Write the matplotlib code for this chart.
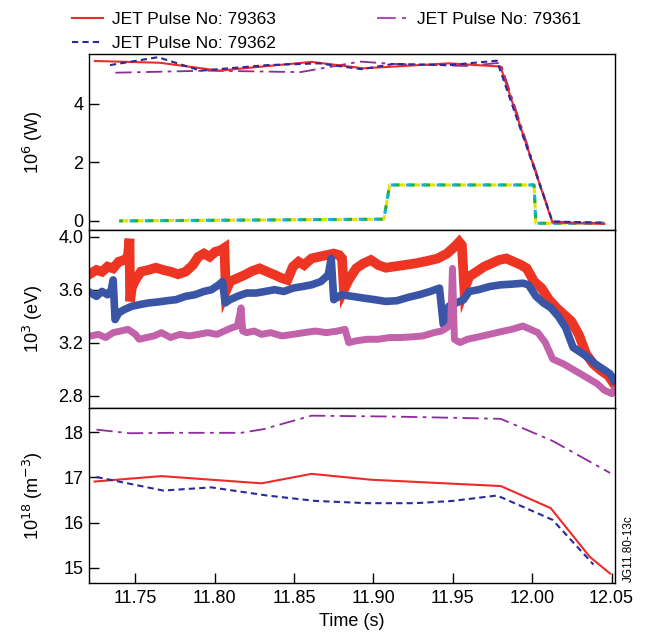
import matplotlib.pyplot as plt
from matplotlib.lines import Line2D

plt.rcParams['font.family'] = ['Liberation Sans', 'DejaVu Sans']

# Input power (10^6 W)
t_pw_363 = [11.7246, 11.7654, 11.8027, 11.8610, 11.8938, 11.9475, 11.9800, 12.0128, 12.0455]
pw_363 = [5.47, 5.41, 5.14, 5.44, 5.22, 5.39, 5.28, -0.06, -0.10]
t_pw_362 = [11.7340, 11.7642, 11.7911, 11.8331, 11.8658, 11.8926, 11.9125, 11.9475, 11.9778, 12.0128, 12.0455]
pw_362 = [5.33, 5.60, 5.14, 5.33, 5.39, 5.19, 5.37, 5.33, 5.48, -0.02, -0.06]
t_pw_361 = [11.7374, 11.7957, 11.8541, 11.8915, 11.9125, 11.9592, 11.9800, 12.0128, 12.0455]
pw_361 = [5.07, 5.14, 5.09, 5.45, 5.37, 5.30, 5.41, -0.02, -0.08]
t_rf = [11.7398, 11.9066, 11.9102, 12.0012, 12.0023, 12.0455]
pw_rf = [0.0, 0.06, 1.23, 1.23, -0.08, -0.08]

# Electron temperature (10^3 eV)
t_te_363 = [11.7220, 11.7255, 11.7290, 11.7325, 11.7360, 11.7395, 11.7430, 11.7453, 11.7463, 11.7467,
            11.7477, 11.7500, 11.7535, 11.7582, 11.7629, 11.7675, 11.7722, 11.7769, 11.7816, 11.7862,
            11.7897, 11.7932, 11.7968, 11.8003, 11.8038, 11.8061, 11.8070, 11.8096, 11.8143, 11.8190,
            11.8236, 11.8283, 11.8330, 11.8377, 11.8423, 11.8458, 11.8493, 11.8528, 11.8563, 11.8610,
            11.8657, 11.8704, 11.8750, 11.8785, 11.8802, 11.8814, 11.8844, 11.8891, 11.8937, 11.8984,
            11.9031, 11.9078, 11.9124, 11.9194, 11.9265, 11.9335, 11.9405, 11.9463, 11.9510, 11.9540,
            11.9557, 11.9573, 11.9603, 11.9650, 11.9697, 11.9744, 11.9790, 11.9837, 11.9884, 11.9931,
            11.9966, 12.0012, 12.0059, 12.0106, 12.0153, 12.0199, 12.0246, 12.0293, 12.0340, 12.0386,
            12.0433, 12.0480, 12.0515]
te_363 = [3.726, 3.751, 3.738, 3.776, 3.763, 3.813, 3.826, 3.851, 3.987, 3.514,
          3.614, 3.676, 3.738, 3.751, 3.768, 3.751, 3.738, 3.719, 3.738, 3.788,
          3.851, 3.875, 3.851, 3.888, 3.900, 3.918, 3.589, 3.664, 3.689, 3.714,
          3.743, 3.763, 3.738, 3.714, 3.689, 3.676, 3.776, 3.813, 3.788, 3.838,
          3.851, 3.863, 3.875, 3.863, 3.838, 3.602, 3.676, 3.763, 3.801, 3.826,
          3.788, 3.768, 3.776, 3.788, 3.801, 3.818, 3.838, 3.875, 3.925, 3.963,
          3.938, 3.602, 3.701, 3.738, 3.776, 3.801, 3.826, 3.838, 3.813, 3.788,
          3.763, 3.664, 3.614, 3.527, 3.465, 3.415, 3.365, 3.265, 3.116, 3.041,
          2.992, 2.954, 2.892]

t_te_362 = [11.7220, 11.7255, 11.7290, 11.7325, 11.7348, 11.7360, 11.7372, 11.7395, 11.7430, 11.7477,
            11.7524, 11.7582, 11.7640, 11.7699, 11.7757, 11.7816, 11.7874, 11.7932, 11.7979, 11.8026,
            11.8049, 11.8066, 11.8096, 11.8143, 11.8201, 11.8260, 11.8318, 11.8377, 11.8435, 11.8493,
            11.8552, 11.8610, 11.8669, 11.8715, 11.8734, 11.8750, 11.8797, 11.8867, 11.8937, 11.9007,
            11.9078, 11.9148, 11.9218, 11.9288, 11.9358, 11.9416, 11.9440, 11.9475, 11.9522, 11.9568,
            11.9603, 11.9662, 11.9732, 11.9802, 11.9872, 11.9942, 11.9977, 12.0024, 12.0071, 12.0118,
            12.0164, 12.0211, 12.0258, 12.0305, 12.0351, 12.0398, 12.0445, 12.0491, 12.0515]
te_362 = [3.577, 3.552, 3.589, 3.564, 3.602, 3.676, 3.377, 3.427, 3.452, 3.477,
          3.489, 3.502, 3.509, 3.519, 3.527, 3.552, 3.564, 3.589, 3.602, 3.639,
          3.664, 3.502, 3.527, 3.552, 3.577, 3.577, 3.589, 3.602, 3.589, 3.614,
          3.626, 3.639, 3.664, 3.714, 3.838, 3.527, 3.564, 3.552, 3.539, 3.527,
          3.514, 3.519, 3.544, 3.564, 3.589, 3.614, 3.340, 3.477, 3.502, 3.527,
          3.589, 3.602, 3.626, 3.639, 3.644, 3.651, 3.639, 3.552, 3.502, 3.465,
          3.402, 3.315, 3.166, 3.129, 3.091, 3.041, 3.004, 2.967, 2.917]

t_te_361 = [11.7220, 11.7266, 11.7313, 11.7360, 11.7407, 11.7453, 11.7500, 11.7524, 11.7570, 11.7617,
            11.7664, 11.7722, 11.7781, 11.7839, 11.7897, 11.7956, 11.8014, 11.8061, 11.8108, 11.8143,
            11.8166, 11.8176, 11.8201, 11.8248, 11.8295, 11.8353, 11.8423, 11.8493, 11.8563, 11.8634,
            11.8704, 11.8774, 11.8821, 11.8844, 11.8891, 11.8961, 11.9031, 11.9101, 11.9171, 11.9241,
            11.9311, 11.9381, 11.9428, 11.9463, 11.9487, 11.9498, 11.9510, 11.9545, 11.9592, 11.9662,
            11.9732, 11.9802, 11.9872, 11.9942, 11.9989, 12.0036, 12.0083, 12.0129, 12.0199, 12.0269,
            12.0340, 12.0410, 12.0456, 12.0503, 12.0515]
te_361 = [3.253, 3.265, 3.241, 3.278, 3.290, 3.303, 3.265, 3.228, 3.241, 3.253,
          3.278, 3.241, 3.265, 3.253, 3.265, 3.278, 3.265, 3.290, 3.315, 3.328,
          3.465, 3.290, 3.278, 3.290, 3.265, 3.278, 3.253, 3.265, 3.278, 3.290,
          3.278, 3.290, 3.303, 3.203, 3.216, 3.228, 3.228, 3.241, 3.241, 3.246,
          3.253, 3.278, 3.290, 3.315, 3.340, 3.763, 3.228, 3.203, 3.228, 3.246,
          3.265, 3.285, 3.303, 3.328, 3.303, 3.278, 3.203, 3.079, 3.041, 2.992,
          2.942, 2.892, 2.842, 2.817, 2.842]

# Line-averaged density (10^18 m^-3)
t_ne_363 = [11.7243, 11.7664, 11.8295, 11.8610, 11.8984, 11.9802, 12.0117, 12.0363, 12.0491]
ne_363 = [16.91, 17.03, 16.87, 17.08, 16.95, 16.81, 16.32, 15.24, 14.87]
t_ne_362 = [11.7255, 11.7675, 11.7979, 11.8330, 11.8634, 11.8961, 11.9264, 11.9498, 11.9779, 12.0129, 12.0386]
ne_362 = [17.01, 16.71, 16.78, 16.60, 16.48, 16.43, 16.43, 16.48, 16.60, 16.06, 15.07]
t_ne_361 = [11.7255, 11.7465, 11.7722, 11.8166, 11.8306, 11.8610, 11.9124, 11.9545, 11.9802, 12.0129, 12.0491]
ne_361 = [18.06, 17.98, 17.99, 17.99, 18.07, 18.37, 18.35, 18.32, 18.30, 17.81, 17.10]

labels = ['JET Pulse No: 79363', 'JET Pulse No: 79362', 'JET Pulse No: 79361']

c_red = '#ee2a2a'
c_blue = '#2a2a9a'
c_purple = '#8e2a9c'
dash_blue = (0, (3, 2))
dashdot_purple = (0, (9, 3, 2, 3))

fig = plt.figure(figsize=(6.46, 6.39), dpi=100)
left, width = 0.1378, 0.8135
ax1 = fig.add_axes([left, 0.6401, width, 0.2754])
ax2 = fig.add_axes([left, 0.3615, width, 0.2786], sharex=ax1)
ax3 = fig.add_axes([left, 0.0876, width, 0.2739], sharex=ax1)

# top: power
ax1.plot(t_rf, pw_rf, color='#e8e000', lw=2.2, ls=(0, (3, 2)))
ax1.plot(t_rf, pw_rf, color='#1fae4a', lw=2.2, ls=(0.8, (2, 3)))
ax1.plot(t_rf, pw_rf, color='#12b4d6', lw=2.2, ls=(1.6, (1.5, 3.5)))
ax1.plot(t_pw_361, pw_361, color=c_purple, lw=1.3, ls=dashdot_purple)
ax1.plot(t_pw_363, pw_363, color=c_red, lw=1.5)
ax1.plot(t_pw_362, pw_362, color=c_blue, lw=1.5, ls=dash_blue)
ax1.set_ylim(-0.31, 5.71)
ax1.set_yticks([0, 2, 4])
ax1.set_ylabel('10$^6$ (W)')

# middle: Te, thick strokes for the noisy ECE traces
ax2.plot(t_te_363, te_363, color='#ee3524', lw=7, solid_joinstyle='miter')
ax2.plot(t_te_362, te_362, color='#3a55a6', lw=5.5)
ax2.plot(t_te_361, te_361, color='#c262aa', lw=5)
ax2.set_ylim(2.709, 4.053)
ax2.set_yticks([2.8, 3.2, 3.6, 4.0])
ax2.set_ylabel('10$^3$ (eV)')

# bottom: density
ax3.plot(t_ne_361, ne_361, color=c_purple, lw=1.3, ls=dashdot_purple)
ax3.plot(t_ne_363, ne_363, color=c_red, lw=1.5)
ax3.plot(t_ne_362, ne_362, color=c_blue, lw=1.5, ls=dash_blue)
ax3.set_ylim(14.66, 18.54)
ax3.set_yticks([15, 16, 17, 18])
ax3.set_ylabel('10$^{18}$ (m$^{-3}$)')
ax3.set_xlim(11.7208, 12.0519)
ax3.set_xticks([11.75, 11.80, 11.85, 11.90, 11.95, 12.00, 12.05])
ax3.set_xticklabels(['11.75', '11.80', '11.85', '11.90', '11.95', '12.00', '12.05'])
ax3.set_xlabel('Time (s)', fontsize=13, labelpad=4)

for ax in (ax1, ax2, ax3):
    ax.tick_params(axis='y', direction='in', length=7, width=1, labelsize=13, pad=4)
    ax.tick_params(axis='x', direction='in', length=7, width=1, labelsize=13, pad=5)
    ax.yaxis.set_label_coords(-0.083, 0.5)
    ax.yaxis.label.set_size(13)
    for s in ax.spines.values():
        s.set_linewidth(1.0)
for ax in (ax1, ax2):
    ax.tick_params(axis='x', bottom=False, labelbottom=False)

handles = [Line2D([], [], color=c_red, lw=1.5),
           Line2D([], [], color=c_blue, lw=1.5, ls=dash_blue),
           Line2D([], [], color='#a452b4', lw=1.5, ls=dashdot_purple)]
fig.legend(handles, labels, loc='upper left', bbox_to_anchor=(0.093, 1.0), ncol=2,
           frameon=False, fontsize=12.5, handlelength=1.8, handletextpad=0.5,
           columnspacing=5.8, labelspacing=0.5, borderpad=0.2)

fig.text(0.973, 0.142, 'JG11.80-13c', rotation=90, fontsize=8.5, ha='center', va='center')

fig.savefig('out.png', dpi=100)
